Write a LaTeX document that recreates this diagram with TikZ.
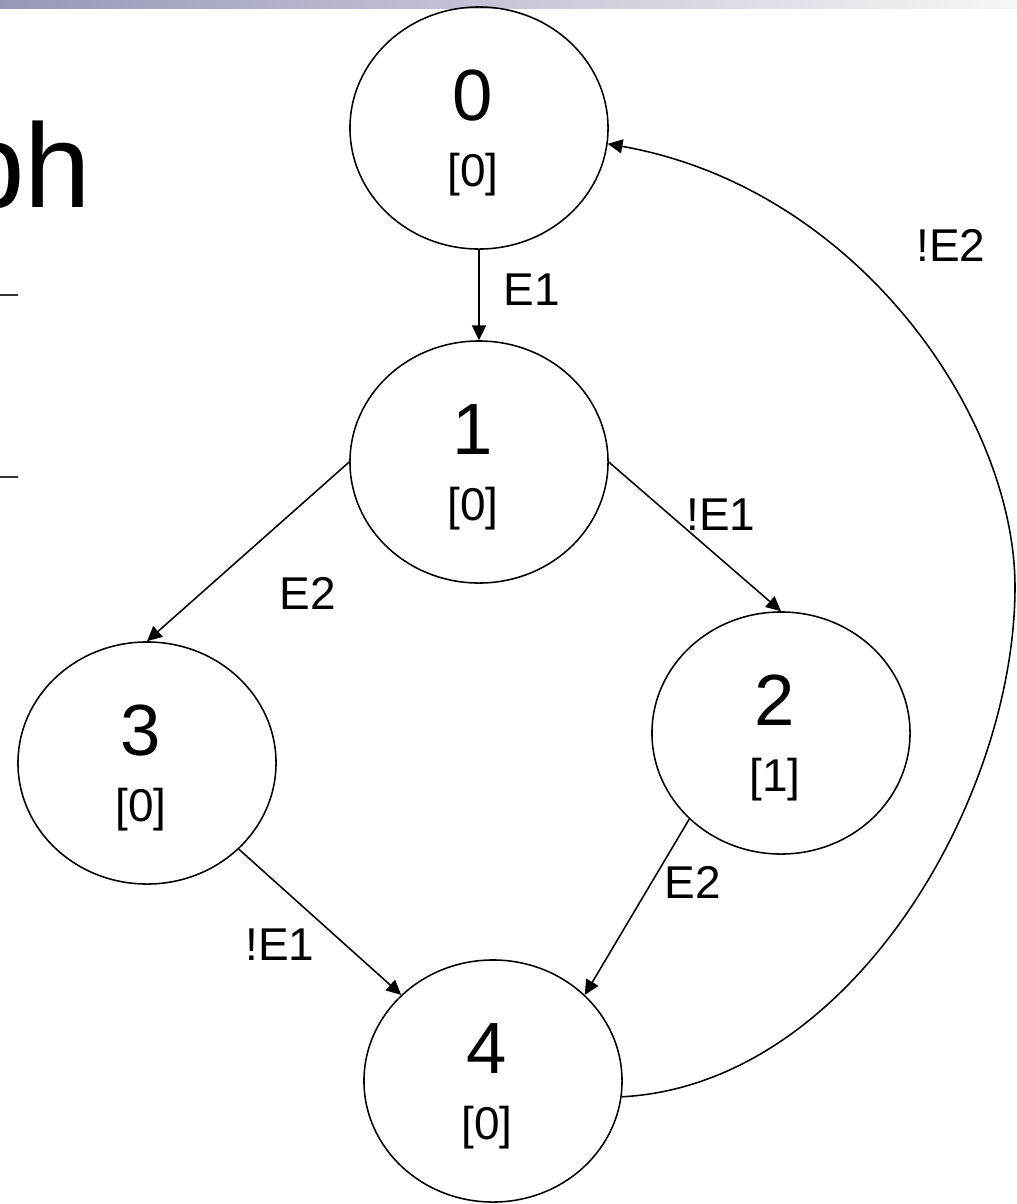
\documentclass[tikz,border=0pt]{standalone}
\usepackage{fontspec}
\setmainfont{Liberation Sans}
\usetikzlibrary{shapes.geometric,arrows.meta}

\begin{document}
\begin{tikzpicture}[x=0.025cm,y=-0.025cm,
    state/.style={draw,ellipse,line width=1.1pt,inner sep=0pt,
                  minimum width=6.45cm,minimum height=6.05cm},
    num/.style={anchor=base,inner sep=0pt,font=\fontsize{51.6}{60}\selectfont},
    cnt/.style={anchor=base,inner sep=0pt,font=\fontsize{32.7}{38}\selectfont},
    cond/.style={inner sep=0pt,font=\fontsize{32.7}{38}\selectfont},
    edge/.style={line width=1.1pt,-{Triangle[length=10.5pt,width=10pt]}}]

\useasboundingbox (0,0) rectangle (1017,1204);

% header strip and the cut-off slide text
\shade [left color={rgb,255:red,150;green,151;blue,184},
        middle color={rgb,255:red,220;green,220;blue,230},
        right color={rgb,255:red,247;green,247;blue,247}] (0,0) rectangle (1017,8);
\node (title) [anchor=base west,inner sep=0pt,font=\fontsize{85}{96}\selectfont] at (-42,207) {ph};
\draw [black!80,line width=0.8pt] (0,295) -- (18,295);
\draw [black!80,line width=0.8pt] (0,477) -- (18,477);

% states
\node (s0) [state] at (479,128)  {};
\node (s1) [state] at (479,462)  {};
\node (s2) [state] at (781,733)  {};
\node (s3) [state] at (147,763)  {};
\node (s4) [state] at (493,1081) {};

\node (num_0) [num] at (473,120)  {0};
\node (num_1) [num] at (473,454)  {1};
\node (num_2) [num] at (775,725)  {2};
\node (num_3) [num] at (141,755)  {3};
\node (num_4) [num] at (487,1073) {4};

\node (cnt_0) [cnt] at (473,186)  {[0]};
\node (cnt_1) [cnt] at (473,520)  {[0]};
\node (cnt_2) [cnt] at (775,791)  {[1]};
\node (cnt_3) [cnt] at (141,821)  {[0]};
\node (cnt_4) [cnt] at (487,1139) {[0]};

% transitions
\draw [edge] (s0.south) -- (s1.north);
\draw [edge] (s1.west) -- (s3.north);
\draw [edge] (s1.east) -- (s2.north);
\draw [edge] (s3.south east) -- (s4.north west);
\draw [edge] (s2.south west) -- (s4.north east);

\coordinate (bend) at (1015,587);
\draw [edge] (s4.-7) .. controls (850,1085) and (1015,800) .. (bend)
             .. controls (1015,417) and (858,188) .. (s0.-7);

\node (c_01) [cond] at (532,290) {E1};
\node (c_13) [cond] at (308,593) {E2};
\node (c_12) [cond] at (721,515) {!E1};
\node (c_24) [cond] at (693,882) {E2};
\node (c_34) [cond] at (280,945) {!E1};
\node (c_40) [cond] at (951,245) {!E2};

\end{tikzpicture}
\end{document}
